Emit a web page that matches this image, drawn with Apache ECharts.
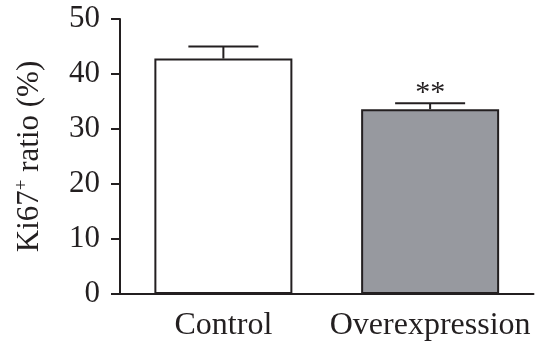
<!DOCTYPE html>
<html>
<head>
<meta charset="utf-8">
<script src="https://cdn.jsdelivr.net/npm/echarts@6/dist/echarts.min.js"></script>
<style>html,body{margin:0;padding:0;background:#fff;}#c{width:535px;height:349px;}</style>
</head>
<body>
<div id="c"></div>
<script>
var categories = ['Control', 'Overexpression'];
var means = [42.8, 33.6];
var errorTops = [45.0, 34.7];
var annotations = ['', '**'];
var yTicks = [0, 10, 20, 30, 40, 50];

var ink = '#231f20';
var font = '"Liberation Serif", "DejaVu Serif", serif';
var chart = echarts.init(document.getElementById('c'), null, {renderer: 'canvas'});
var errData = categories.map(function (c, i) { return [i, means[i], errorTops[i], annotations[i]]; });

chart.setOption({
  animation: false,
  grid: {left: 120, right: 1.5, top: 19, bottom: 55},
  xAxis: {
    type: 'category',
    data: categories,
    axisLine: {lineStyle: {color: ink, width: 2}},
    axisTick: {alignWithLabel: true, length: 9, lineStyle: {color: ink, width: 2}},
    axisLabel: {color: ink, fontFamily: font, fontSize: 32, margin: 16, interval: 0, hideOverlap: false}
  },
  yAxis: {
    type: 'value',
    min: yTicks[0], max: yTicks[yTicks.length - 1], interval: 10,
    splitLine: {show: false},
    axisLine: {show: true, lineStyle: {color: ink, width: 2}},
    axisTick: {show: true, length: 9, lineStyle: {color: ink, width: 2}},
    axisLabel: {color: ink, fontFamily: font, fontSize: 31, margin: 20},
    name: '{b|Ki67}{s|+}{b| ratio (%)}',
    nameLocation: 'middle',
    nameGap: 73,
    nameTextStyle: {
      fontFamily: font, color: ink,
      rich: {
        b: {fontFamily: font, fontSize: 31, color: ink, lineHeight: 34},
        s: {fontFamily: font, fontSize: 19, color: ink, verticalAlign: 'top', lineHeight: 34, padding: [0, 0, 13, 0]}
      }
    }
  },
  series: [
    {
      type: 'bar',
      data: means.map(function (v, i) {
        return {value: v, itemStyle: {color: i === 0 ? '#ffffff' : '#97999f'}};
      }),
      barWidth: 138,
      itemStyle: {borderColor: ink, borderWidth: 2}
    },
    {
      type: 'custom',
      data: errData,
      z: 10,
      renderItem: function (params, api) {
        var x = api.value(0);
        var base = api.coord([x, api.value(1)]);
        var top = api.coord([x, api.value(2)]);
        var half = 35;
        var children = [
          {type: 'line', shape: {x1: base[0], y1: base[1], x2: top[0], y2: top[1]}, style: {stroke: ink, lineWidth: 2}},
          {type: 'line', shape: {x1: top[0] - half, y1: top[1], x2: top[0] + half, y2: top[1]}, style: {stroke: ink, lineWidth: 2}}
        ];
        var ann = annotations[params.dataIndex];
        if (ann) {
          children.push({type: 'text', style: {text: ann, x: top[0], y: top[1] - 10, align: 'center', verticalAlign: 'middle', font: '30px ' + font, fill: ink}});
        }
        return {type: 'group', children: children};
      }
    }
  ]
});
</script>
</body>
</html>
